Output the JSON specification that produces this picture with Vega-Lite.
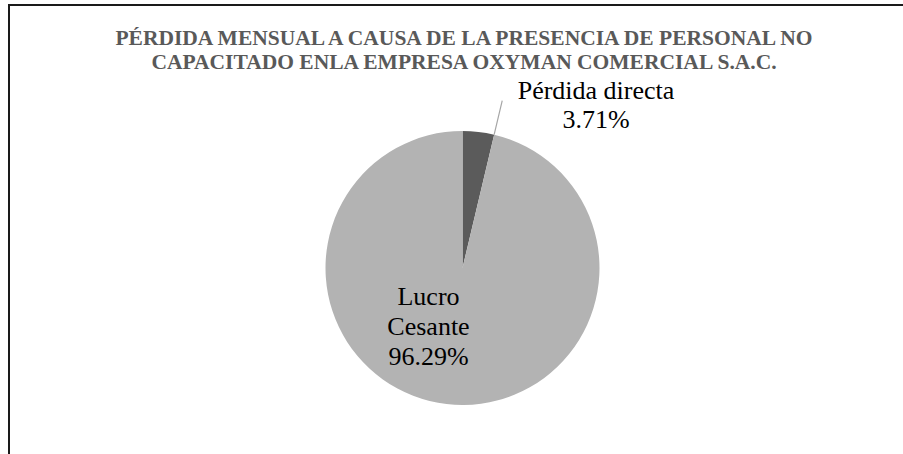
{
  "$schema": "https://vega.github.io/schema/vega-lite/v6.json",
  "autosize": {"type": "none"},
  "width": 907,
  "height": 526,
  "padding": {"left": 9, "top": 5, "right": -13, "bottom": -77},
  "background": "white",
  "view": {"stroke": "#1a1a1a", "strokeWidth": 2},
  "config": {"view": {"stroke": "#1a1a1a", "strokeWidth": 2}},
  "title": {
    "text": ["PÉRDIDA MENSUAL A CAUSA DE LA PRESENCIA DE PERSONAL NO", "CAPACITADO ENLA EMPRESA OXYMAN COMERCIAL S.A.C."],
    "font": "Liberation Serif",
    "fontSize": 21.5,
    "fontWeight": "bold",
    "color": "#595959",
    "lineHeight": 23.5,
    "offset": -68,
    "anchor": "middle",
    "dx": 1.5
  },
  "data": {"values": [
    {"category": "Pérdida directa", "value": 3.71},
    {"category": "Lucro Cesante", "value": 96.29}
  ]},
  "layer": [
    {
      "mark": {"type": "arc", "outerRadius": 137},
      "encoding": {
        "theta": {"field": "value", "type": "quantitative", "stack": true},
        "color": {"field": "category", "type": "nominal", "scale": {"domain": ["Lucro Cesante", "Pérdida directa"], "range": ["#b3b3b3", "#5b5b5b"]}, "legend": null},
        "order": {"field": "value", "type": "quantitative", "sort": "ascending"}
      }
    },
    {
      "transform": [{"filter": "datum.category == 'Pérdida directa'"}],
      "mark": {"type": "arc", "outerRadius": 172, "innerRadius": 137, "fillOpacity": 0, "stroke": "#a6a6a6", "strokeWidth": 1.2},
      "encoding": {
        "theta": {"field": "value", "type": "quantitative", "stack": null},
        "theta2": {"field": "value"}
      }
    },
    {
      "transform": [{"calculate": "datum.category == 'Lucro Cesante' ? replace(datum.category, ' ', '\\n') + '\\n' + format(datum.value / 100, '.2%') : ''", "as": "lab"}],
      "mark": {"type": "text", "radius": 29.2, "dx": -30.6, "font": "Liberation Serif", "fontSize": 26, "lineHeight": 30, "lineBreak": "\n", "align": "center", "baseline": "middle", "fill": "#000000"},
      "encoding": {
        "theta": {"field": "value", "type": "quantitative", "stack": true},
        "detail": {"field": "category", "type": "nominal"},
        "order": {"field": "value", "type": "quantitative", "sort": "ascending"},
        "text": {"field": "lab"}
      }
    },
    {
      "transform": [{"calculate": "datum.category == 'Pérdida directa' ? datum.category + '\\n' + format(datum.value / 100, '.2%') : ''", "as": "lab"}],
      "mark": {"type": "text", "radius": 178.2, "dx": 112.8, "font": "Liberation Serif", "fontSize": 26, "lineHeight": 29, "lineBreak": "\n", "align": "center", "baseline": "middle", "fill": "#000000"},
      "encoding": {
        "theta": {"field": "value", "type": "quantitative", "stack": true},
        "detail": {"field": "category", "type": "nominal"},
        "order": {"field": "value", "type": "quantitative", "sort": "ascending"},
        "text": {"field": "lab"}
      }
    }
  ]
}
